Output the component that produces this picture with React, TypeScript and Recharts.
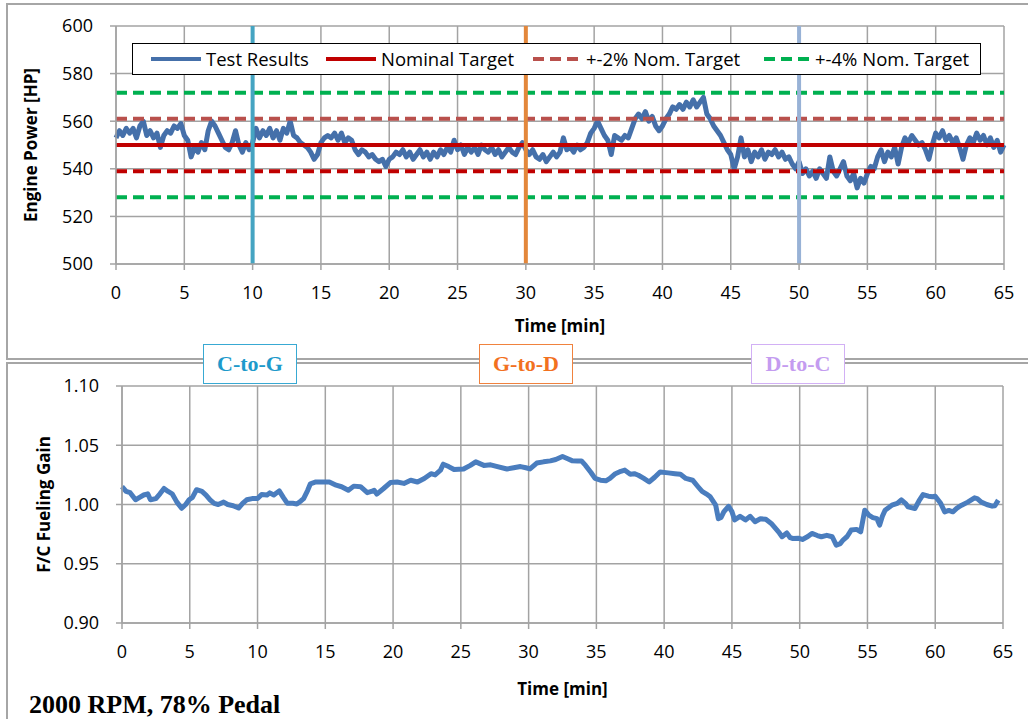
import React from "react";
import {
  LineChart,
  Line,
  XAxis,
  YAxis,
  CartesianGrid,
  ReferenceLine,
  Legend
} from "recharts";

const SANS = "'Open Sans', 'Liberation Sans', sans-serif";
const SERIF = "'Liberation Serif', 'Times New Roman', serif";

// engine power, one sample every 0.25 min (0 .. 65 min)
const powerStep = 0.25;
const powerHp = [
  553, 556, 554, 557, 555, 557, 553, 558, 560, 554, 556, 553, 555, 549, 554, 556, 555, 558, 557, 559,
  554, 552, 545, 549, 547, 551, 548, 556, 560, 558, 555, 552, 549, 548, 551, 556, 550, 547, 551, 548,
  551, 557, 553, 556, 554, 557, 553, 556, 552, 557, 555, 560, 554, 553, 551, 550, 549, 547, 544, 546,
  551, 553, 554, 553, 555, 552, 555, 551, 553, 552, 548, 546, 548, 547, 545, 546, 544, 543, 544, 541,
  544, 545, 547, 546, 548, 545, 547, 544, 546, 548, 545, 547, 544, 547, 545, 548, 546, 549, 547, 552,
  548, 550, 546, 549, 547, 549, 546, 550, 548, 547, 549, 546, 548, 545, 547, 549, 547, 546, 549, 551,
  548, 546, 548, 545, 544, 546, 543, 545, 547, 545, 547, 553, 548, 549, 547, 550, 548, 549, 551, 555,
  557, 560, 557, 554, 552, 546, 554, 553, 552, 554, 553, 557, 561, 563, 561, 564, 560, 562, 558, 556,
  558, 561, 563, 566, 565, 567, 565, 568, 566, 569, 566, 568, 570, 563, 561, 558, 556, 554, 551, 548,
  546, 540, 545, 553, 545, 548, 543, 547, 545, 548, 544, 547, 546, 548, 545, 547, 544, 545, 542, 540,
  543, 538, 540, 537, 539, 536, 540, 538, 536, 545, 539, 537, 540, 543, 537, 535, 538, 532, 536, 534,
  538, 541, 540, 545, 548, 543, 547, 545, 549, 542, 549, 553, 551, 554, 552, 550, 551, 548, 544, 550,
  555, 553, 556, 552, 554, 551, 553, 549, 544, 550, 553, 551, 555, 552, 554, 550, 553, 549, 552, 547,
  550
];

// F/C fueling gain
const fcTime = [
  0.0, 0.3, 0.6, 1.0, 1.3, 1.6, 1.9, 2.1, 2.5, 2.8, 3.1, 3.4, 3.7, 4.05, 4.4, 4.7, 4.95, 5.2, 5.5, 5.9,
  6.2, 6.5, 6.8, 7.1, 7.5, 7.8, 8.2, 8.6, 8.9, 9.2, 9.6, 10.0, 10.3, 10.7, 10.9, 11.2, 11.6, 11.9, 12.2, 12.6,
  12.9, 13.2, 13.4, 13.7, 13.9, 14.3, 14.8, 15.3, 15.8, 16.2, 16.7, 17.1, 17.6, 18.1, 18.4, 18.6, 18.8, 19.3, 19.8, 20.3,
  20.8, 21.3, 21.8, 22.3, 22.8, 23.1, 23.5, 23.7, 24.1, 24.5, 25.2, 25.7, 26.1, 26.7, 27.2, 27.7, 28.4, 28.9, 29.4, 29.8,
  30.1, 30.6, 31.1, 31.6, 32.0, 32.5, 32.8, 33.2, 33.6, 33.9, 34.2, 34.6, 34.9, 35.3, 35.7, 36.0, 36.4, 36.8, 37.1, 37.5,
  37.8, 38.1, 38.5, 38.9, 39.3, 39.7, 40.3, 40.8, 41.2, 41.6, 42.1, 42.5, 42.8, 43.1, 43.4, 43.8, 44.0, 44.2, 44.4, 44.75,
  45.0, 45.2, 45.6, 46.0, 46.35, 46.7, 47.1, 47.5, 47.9, 48.2, 48.5, 48.7, 49.05, 49.3, 49.5, 49.9, 50.2, 50.6, 50.9, 51.3,
  51.6, 52.0, 52.4, 52.7, 53.0, 53.2, 53.5, 53.8, 54.2, 54.5, 54.8, 55.1, 55.4, 55.7, 55.9, 56.1, 56.3, 56.8, 57.2, 57.5,
  57.8, 58.0, 58.5, 58.8, 59.1, 59.5, 59.8, 60.0, 60.4, 60.7, 61.0, 61.3, 61.6, 61.95, 62.4, 62.9, 63.1, 63.4, 63.8, 64.2,
  64.4, 64.65
];
const fcGain = [
  1.015, 1.011, 1.01, 1.004, 1.006, 1.008, 1.009, 1.004, 1.005, 1.009, 1.0135, 1.011, 1.009, 1.002, 0.9968, 1.0, 1.004, 1.006, 1.0125, 1.011,
  1.008, 1.004, 1.001, 1.0, 1.002, 1.0, 0.999, 0.997, 1.001, 1.004, 1.005, 1.005, 1.0085, 1.008, 1.0098, 1.008, 1.0115, 1.006, 1.001, 1.001,
  1.0005, 1.003, 1.005, 1.012, 1.0175, 1.019, 1.019, 1.019, 1.0163, 1.015, 1.012, 1.0155, 1.015, 1.01, 1.011, 1.012, 1.0088, 1.0135, 1.0185, 1.019,
  1.0178, 1.0205, 1.019, 1.022, 1.026, 1.025, 1.029, 1.034, 1.032, 1.0295, 1.03, 1.033, 1.036, 1.033, 1.0335, 1.032, 1.03, 1.031, 1.032, 1.031,
  1.03, 1.035, 1.036, 1.0368, 1.038, 1.0405, 1.039, 1.037, 1.0368, 1.0368, 1.033, 1.027, 1.022, 1.0205, 1.02, 1.022, 1.026, 1.028, 1.029, 1.0256,
  1.026, 1.0247, 1.022, 1.019, 1.023, 1.0275, 1.0267, 1.026, 1.0255, 1.022, 1.0205, 1.015, 1.011, 1.009, 1.0065, 0.9995, 0.988, 0.989, 0.9938, 0.9985,
  0.994, 0.987, 0.99, 0.987, 0.99, 0.9855, 0.988, 0.9875, 0.984, 0.98, 0.976, 0.9728, 0.976, 0.972, 0.9713, 0.9715, 0.9705, 0.973, 0.9756, 0.9738,
  0.9728, 0.974, 0.9728, 0.9657, 0.967, 0.97, 0.973, 0.9784, 0.979, 0.977, 0.9952, 0.991, 0.989, 0.988, 0.9826, 0.99, 0.9952, 0.9994, 1.001, 1.004,
  1.001, 0.998, 0.9966, 1.003, 1.0084, 1.007, 1.0065, 1.007, 1.001, 0.9938, 0.995, 0.9938, 0.997, 0.9994, 1.002, 1.0056, 1.005, 1.002, 1.0, 0.9986,
  0.999, 1.0037
];

const timeTicks = [0, 5, 10, 15, 20, 25, 30, 35, 40, 45, 50, 55, 60, 65];
const powerTicks = [500, 520, 540, 560, 580, 600];
const gainTicks = [0.9, 0.95, 1.0, 1.05, 1.1];

const nominalHp = 550;
const band2Hp = [561, 539];
const band4Hp = [572, 528];

const transitionTimes = [10, 30, 50];
const transitionNames = ["C-to-G", "G-to-D", "D-to-C"];

const legendNames = ["Test Results", "Nominal Target", "+-2% Nom. Target", "+-4% Nom. Target"];

const BLUE = "#4570AA";
const BLUE2 = "#4A7DBE";
const RED = "#C00000";
const BROWN = "#B9504C";
const GREEN = "#00B050";
const GRID = "#A3A3A3";
const lineColors = ["#45A4C2", "#E3873B", "#98B2D6"];
const boxColors = [
  { text: "#1E9ACB", border: "#38A9D3" },
  { text: "#F2711F", border: "#F0823E" },
  { text: "#C49CF0", border: "#D2B0F5" }
];
const boxLeft = [203, 479, 751];

const powerData = powerHp.map((hp, i) => ({ t: i * powerStep, hp }));
const gainData = fcTime.map((t, i) => ({ t, gain: fcGain[i] }));

const tickStyle = { fill: "#000", fontSize: 18, fontFamily: SANS };

const legendLayout = [
  { color: BLUE, dash: undefined, sx: 18, sw: 50, tx: 73 },
  { color: RED, dash: undefined, sx: 193, sw: 50, tx: 248 },
  { color: BROWN, dash: "11 6", sx: 400, sw: 45, tx: 453 },
  { color: GREEN, dash: "11 6", sx: 631, sw: 45, tx: 682 }
];

const renderLegend = () => (
  <div
    style={{
      position: "relative",
      width: 849,
      height: 32,
      boxSizing: "border-box",
      border: "1.5px solid #000",
      background: "#fff",
      fontFamily: SANS,
      fontSize: 18.5
    }}
  >
    {legendNames.map((name, i) => {
      const l = legendLayout[i];
      return (
        <React.Fragment key={name}>
          <svg
            width={l.sw}
            height={8}
            style={{ position: "absolute", left: l.sx, top: 11 }}
          >
            <line
              x1={0}
              x2={l.sw}
              y1={4}
              y2={4}
              stroke={l.color}
              strokeWidth={4}
              strokeDasharray={l.dash}
            />
          </svg>
          <span
            style={{
              position: "absolute",
              left: l.tx,
              top: 3,
              lineHeight: "24px",
              color: "#000",
              whiteSpace: "nowrap"
            }}
          >
            {name}
          </span>
        </React.Fragment>
      );
    })}
  </div>
);

const xTitle = (dy: number) => (props: any) => {
  const { x, y, width } = props.viewBox;
  return (
    <text
      x={x + width / 2}
      y={y + dy}
      textAnchor="middle"
      dominantBaseline="central"
      fontFamily={SANS}
      fontSize={17}
      fontWeight="bold"
      fill="#000"
    >
      Time [min]
    </text>
  );
};

const yTitle = (text: string, cx: number) => (props: any) => {
  const { y, height } = props.viewBox;
  const cy = y + height / 2;
  return (
    <text
      x={cx}
      y={cy}
      transform={`rotate(-90 ${cx} ${cy})`}
      textAnchor="middle"
      dominantBaseline="central"
      fontFamily={SANS}
      fontSize={17}
      fontWeight="bold"
      fill="#000"
    >
      {text}
    </text>
  );
};

export default function App() {
  return (
    <div
      style={{
        position: "absolute",
        left: 0,
        top: 0,
        width: 1028,
        height: 719,
        overflow: "hidden",
        background: "#fff"
      }}
    >
      <div
        style={{
          position: "absolute",
          left: 6,
          top: 3,
          width: 1040,
          height: 353,
          border: "2px solid #A6A6A6"
        }}
      />
      <div
        style={{
          position: "absolute",
          left: 6,
          top: 362,
          width: 1040,
          height: 400,
          border: "2px solid #A6A6A6"
        }}
      />

      <div style={{ position: "absolute", left: 0, top: 0 }}>
        <LineChart
          width={1028}
          height={360}
          data={powerData}
          margin={{ top: 26, right: 24, left: 0, bottom: 0 }}
        >
          <CartesianGrid stroke={GRID} strokeWidth={1.5} />
          <XAxis
            dataKey="t"
            type="number"
            domain={[0, 65]}
            ticks={timeTicks}
            interval={0}
            height={96}
            stroke={GRID}
            strokeWidth={1.5}
            tickSize={6}
            tickMargin={16}
            tick={tickStyle}
            label={xTitle(61)}
          />
          <YAxis
            type="number"
            domain={[500, 600]}
            ticks={powerTicks}
            interval={0}
            width={116}
            stroke={GRID}
            strokeWidth={1.5}
            tickSize={6}
            tickMargin={17}
            tick={tickStyle}
            label={yTitle("Engine Power [HP]", 30)}
          />
          <Line
            dataKey="hp"
            stroke={BLUE}
            strokeWidth={5}
            dot={false}
            strokeLinejoin="round"
            isAnimationActive={false}
          />
          <ReferenceLine y={band4Hp[0]} stroke={GREEN} strokeWidth={4} strokeDasharray="11 6" />
          <ReferenceLine y={band4Hp[1]} stroke={GREEN} strokeWidth={4} strokeDasharray="11 6" />
          <ReferenceLine y={band2Hp[0]} stroke={BROWN} strokeWidth={4} strokeDasharray="11 6" />
          <ReferenceLine y={band2Hp[1]} stroke={RED} strokeWidth={4} strokeDasharray="11 6" />
          <ReferenceLine y={nominalHp} stroke={RED} strokeWidth={4} />
          {transitionTimes.map((t, i) => (
            <ReferenceLine key={t} x={t} stroke={lineColors[i]} strokeWidth={4} />
          ))}
          <Legend
            layout="horizontal"
            verticalAlign="middle"
            align="center"
            content={renderLegend}
            wrapperStyle={{ left: 132, top: 43, width: 849, height: 32 }}
          />
        </LineChart>
      </div>

      <div style={{ position: "absolute", left: 0, top: 362 }}>
        <LineChart
          width={1028}
          height={357}
          data={gainData}
          margin={{ top: 24, right: 25, left: 0, bottom: 0 }}
        >
          <CartesianGrid stroke={GRID} strokeWidth={1.5} />
          <XAxis
            dataKey="t"
            type="number"
            domain={[0, 65]}
            ticks={timeTicks}
            interval={0}
            height={96}
            stroke={GRID}
            strokeWidth={1.5}
            tickSize={6}
            tickMargin={16}
            tick={tickStyle}
            label={xTitle(65)}
          />
          <YAxis
            type="number"
            domain={[0.9, 1.1]}
            ticks={gainTicks}
            interval={0}
            width={122}
            stroke={GRID}
            strokeWidth={1.5}
            tickSize={6}
            tickMargin={17}
            tick={tickStyle}
            tickFormatter={(v) => Number(v).toFixed(2)}
            label={yTitle("F/C Fueling Gain", 43)}
          />
          <Line
            dataKey="gain"
            stroke={BLUE2}
            strokeWidth={5}
            dot={false}
            strokeLinejoin="round"
            isAnimationActive={false}
          />
        </LineChart>
      </div>

      {transitionNames.map((name, i) => (
        <div
          key={name}
          style={{
            position: "absolute",
            left: boxLeft[i],
            top: 344,
            width: 94,
            height: 40,
            boxSizing: "border-box",
            border: `1.5px solid ${boxColors[i].border}`,
            background: "#fff",
            color: boxColors[i].text,
            fontFamily: SERIF,
            fontWeight: "bold",
            fontSize: 22,
            display: "flex",
            alignItems: "center",
            justifyContent: "center"
          }}
        >
          {name}
        </div>
      ))}

      <div
        style={{
          position: "absolute",
          left: 29,
          top: 692,
          fontFamily: SERIF,
          fontWeight: "bold",
          fontSize: 26,
          lineHeight: "26px",
          color: "#000",
          whiteSpace: "nowrap"
        }}
      >
        2000 RPM, 78% Pedal
      </div>
    </div>
  );
}
